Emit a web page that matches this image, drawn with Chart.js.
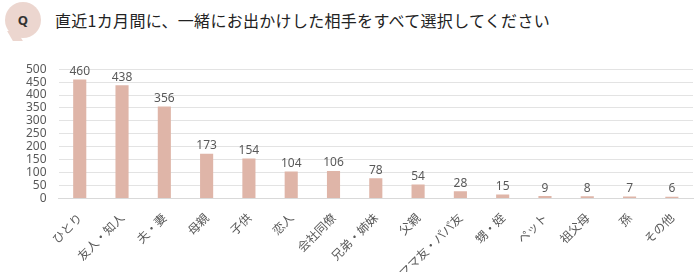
<!DOCTYPE html>
<html lang="ja">
<head>
<meta charset="utf-8">
<script src="https://cdn.jsdelivr.net/npm/chart.js@4"></script>
<style>
  body { margin: 0; background: #fff; font-family: "Noto Sans CJK JP", sans-serif; }
  #wrap { position: relative; width: 695px; height: 272px; overflow: hidden; }
  .q {
    position: absolute; left: 5px; top: 2px; width: 36px; height: 36px;
    border-radius: 50%; background: #ecd6cf; color: #333;
    font: bold 13px "Noto Sans", sans-serif; text-align: center; line-height: 36px;
  }
  .q::after {
    content: ""; position: absolute; left: 5px; bottom: -3px; width: 10px; height: 10px;
    background: #ecd6cf; transform: skewX(30deg); z-index: -1;
  }
  .title {
    position: absolute; left: 55px; top: 8px; font-size: 16px; color: #222;
    letter-spacing: 0.3px;
  }
  #box { position: absolute; left: 0; top: 50px; width: 695px; height: 234px; }
</style>
</head>
<body>
<div id="wrap">
  <div class="q">Q</div>
  <div class="title">直近1カ月間に、一緒にお出かけした相手をすべて選択してください</div>
  <div id="box"><canvas id="grafico"></canvas></div>
</div>
<script>
// ===============================
// DATOS
// ===============================
const categorias = [
  "ひとり", "友人・知人", "夫・妻", "母親", "子供", "恋人", "会社同僚",
  "兄弟・姉妹", "父親", "ママ友・パパ友", "甥・姪", "ペット", "祖父母", "孫", "その他",
];
const valores = [460, 438, 356, 173, 154, 104, 106, 78, 54, 28, 15, 9, 8, 7, 6];
const ticksY = [0, 50, 100, 150, 200, 250, 300, 350, 400, 450, 500];

const colorBarra = "#dfb5a8";
const colorTexto = "#595959";

// valores encima de cada barra
const etiquetas = {
  id: "etiquetas",
  afterDatasetsDraw(chart) {
    const ctx = chart.ctx;
    const meta = chart.getDatasetMeta(0);
    ctx.save();
    ctx.fillStyle = colorTexto;
    ctx.font = "12px 'Noto Sans', sans-serif";
    ctx.textAlign = "center";
    ctx.textBaseline = "bottom";
    meta.data.forEach((bar, i) => {
      ctx.fillText(valores[i], bar.x, bar.y - 2);
    });
    ctx.restore();
  },
};

new Chart(document.getElementById("grafico"), {
  type: "bar",
  data: {
    labels: categorias,
    datasets: [
      {
        data: valores,
        backgroundColor: colorBarra,
        barPercentage: 0.31,
        categoryPercentage: 1,
      },
    ],
  },
  options: {
    responsive: true,
    maintainAspectRatio: false,
    animation: false,
    layout: { padding: { left: 14, right: 2, top: 10 } },
    plugins: { legend: { display: false }, tooltip: { enabled: false } },
    scales: {
      x: {
        grid: { display: false },
        border: { color: "#d9d9d9" },
        ticks: {
          color: colorTexto,
          font: { size: 12, family: "'Noto Sans CJK JP', sans-serif" },
          minRotation: 45,
          maxRotation: 45,
          autoSkip: false,
          padding: 4,
        },
      },
      y: {
        min: 0,
        max: 500,
        afterBuildTicks: (axis) => {
          axis.ticks = ticksY.map((v) => ({ value: v }));
        },
        grid: { color: "#e3e3e3", drawTicks: false },
        border: { display: false },
        ticks: {
          color: colorTexto,
          font: { size: 12, family: "'Noto Sans', sans-serif" },
          padding: 12,
          autoSkip: false,
        },
      },
    },
  },
  plugins: [etiquetas],
});
</script>
</body>
</html>
